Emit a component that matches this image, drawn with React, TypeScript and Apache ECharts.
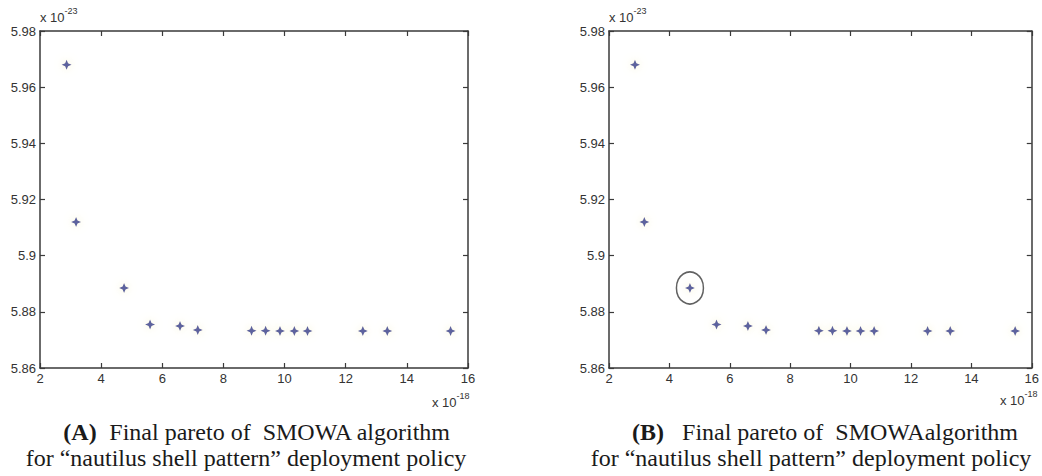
import React, { useEffect, useRef } from "react";
import * as echarts from "echarts";

// Pareto front values (x in units of 1e-18, y in units of 1e-23)
const xValuesA = [2.87, 3.18, 4.75, 5.6, 6.58, 7.16, 8.92, 9.38, 9.85, 10.32, 10.75, 12.56, 13.36, 15.43];
const yValuesA = [5.968, 5.912, 5.8885, 5.8755, 5.875, 5.8735, 5.8733, 5.8733, 5.8732, 5.8732, 5.8732, 5.8732, 5.8732, 5.8732];
const xValuesB = [2.86, 3.17, 4.68, 5.56, 6.6, 7.2, 8.95, 9.4, 9.88, 10.33, 10.78, 12.55, 13.3, 15.45];
const yValuesB = [5.968, 5.912, 5.8885, 5.8755, 5.875, 5.8735, 5.8733, 5.8733, 5.8732, 5.8732, 5.8732, 5.8732, 5.8732, 5.8732];
const highlightedIndexB = 2;

const xTicks = { min: 2, max: 16, interval: 2 };
const yTicks = { min: 5.86, max: 5.98, interval: 0.02 };

const captionA1 = "Final pareto of  SMOWA algorithm";
const captionB1 = "Final pareto of  SMOWAalgorithm";
const captionLine2 = "for \u201cnautilus shell pattern\u201d deployment policy";

const STAR = "path://M0,-10 L3,-3 L10,0 L3,3 L0,10 L-3,3 L-10,0 L-3,-3 Z";

export default function App() {
  const ref = useRef<HTMLDivElement>(null);
  useEffect(() => {
    if (!ref.current) return;
    const chart = echarts.init(ref.current, null, { renderer: "svg" });
    const axisLineStyle = { color: "#3a3a3a", width: 1.5 };
    const labelStyle = { color: "#333", fontFamily: "Liberation Sans, Arial", fontSize: 13 };
    const fmt = (v: number) => String(+v.toFixed(2));

    const mkX = (grid: number, pos: "bottom" | "top") => ({
      type: "value",
      gridIndex: grid,
      position: pos,
      min: xTicks.min,
      max: xTicks.max,
      interval: xTicks.interval,
      splitLine: { show: false },
      axisLine: { show: true, onZero: false, lineStyle: axisLineStyle },
      axisTick: { show: true, inside: true, length: 5, lineStyle: { color: "#3a3a3a", width: 1.2 } },
      axisLabel: pos === "bottom" ? { ...labelStyle, margin: 4, formatter: fmt } : { show: false },
    });
    const mkY = (grid: number, pos: "left" | "right") => ({
      type: "value",
      gridIndex: grid,
      position: pos,
      min: yTicks.min,
      max: yTicks.max,
      interval: yTicks.interval,
      splitLine: { show: false },
      axisLine: { show: true, onZero: false, lineStyle: axisLineStyle },
      axisTick: { show: true, inside: true, length: 5, lineStyle: { color: "#3a3a3a", width: 1.2 } },
      axisLabel: pos === "left" ? { ...labelStyle, margin: 4, formatter: fmt } : { show: false },
    });

    const pts = (xs: number[], ys: number[]) => xs.map((x, i) => [x, ys[i]]);
    const starStyle = {
      color: "#27338a",
      shadowColor: "rgba(235,225,150,0.7)",
      shadowBlur: 8,
    };

    const expText = (base: string, sup: string) => ({
      text: `{b|${base}}{s|${sup}}`,
      rich: {
        b: { fontSize: 13, fontFamily: "Liberation Sans, Arial", fill: "#333", verticalAlign: "bottom" },
        s: { fontSize: 9, fontFamily: "Liberation Sans, Arial", fill: "#333", verticalAlign: "top", padding: [0, 0, 9, 0] },
      },
    });

    const captionStyle = (first: string, rest: string) => ({
      text: `{bold|${first}}{n|${rest}}`,
      rich: {
        bold: { fontSize: 24, fontWeight: "bold", fontFamily: "Liberation Serif, Times New Roman", fill: "#1a1a1a" },
        n: { fontSize: 24, fontFamily: "Liberation Serif, Times New Roman", fill: "#1a1a1a" },
      },
      align: "center",
      verticalAlign: "middle",
    });
    const line2Style = {
      text: captionLine2,
      fontSize: 24,
      fontFamily: "Liberation Serif, Times New Roman",
      fill: "#1a1a1a",
      align: "center",
      verticalAlign: "middle",
    };

    chart.setOption({
      animation: false,
      backgroundColor: "#ffffff",
      grid: [
        { left: 40, top: 31, width: 428, height: 337 },
        { left: 609, top: 31, width: 430, height: 337 },
      ],
      xAxis: [mkX(0, "bottom"), mkX(0, "top"), mkX(1, "bottom"), mkX(1, "top")],
      yAxis: [mkY(0, "left"), mkY(0, "right"), mkY(1, "left"), mkY(1, "right")],
      series: [
        {
          type: "scatter",
          xAxisIndex: 0,
          yAxisIndex: 0,
          symbol: STAR,
          symbolSize: 10,
          itemStyle: starStyle,
          data: pts(xValuesA, yValuesA),
        },
        {
          type: "scatter",
          xAxisIndex: 2,
          yAxisIndex: 2,
          symbol: STAR,
          symbolSize: 10,
          itemStyle: starStyle,
          data: pts(xValuesB, yValuesB),
        },
        {
          type: "scatter",
          xAxisIndex: 2,
          yAxisIndex: 2,
          symbol: "circle",
          symbolSize: [27, 32],
          itemStyle: { color: "transparent", borderColor: "#3a3a3a", borderWidth: 1.6 },
          z: 1,
          silent: true,
          data: [[xValuesB[highlightedIndexB], yValuesB[highlightedIndexB]]],
        },
      ],
      graphic: [
        { type: "text", left: 40, top: 6, style: expText("x 10", "-23") },
        { type: "text", left: 609, top: 6, style: expText("x 10", "-23") },
        { type: "text", left: 432, top: 391, style: expText("x 10", "-18") },
        { type: "text", left: 1000, top: 389, style: expText("x 10", "-18") },
        { type: "text", x: 257, y: 432, style: captionStyle("(A)", "  " + captionA1) },
        { type: "text", x: 246, y: 458, style: line2Style },
        { type: "text", x: 825, y: 432, style: captionStyle("(B)", "   " + captionB1) },
        { type: "text", x: 811, y: 458, style: line2Style },
      ],
    });
    return () => chart.dispose();
  }, []);
  return (
    <div
      ref={ref}
      style={{ position: "absolute", left: 0, top: 0, width: 1042, height: 476, background: "#fff" }}
    />
  );
}
